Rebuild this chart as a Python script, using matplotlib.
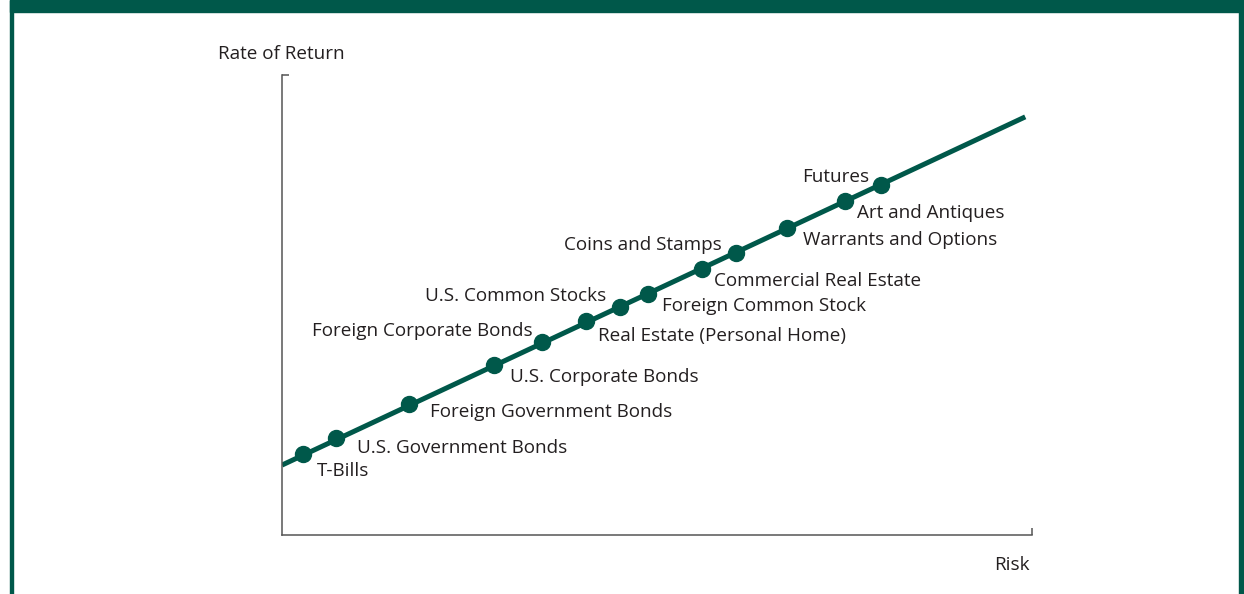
import matplotlib.pyplot as plt
from matplotlib.patches import Rectangle

# risk / return on a 0-100 scale
line_risk = [0.0, 99.1]
line_return = [15.2, 90.9]

assets = [
    "T-Bills",
    "U.S. Government Bonds",
    "Foreign Government Bonds",
    "U.S. Corporate Bonds",
    "Foreign Corporate Bonds",
    "Real Estate (Personal Home)",
    "U.S. Common Stocks",
    "Foreign Common Stock",
    "Commercial Real Estate",
    "Coins and Stamps",
    "Warrants and Options",
    "Art and Antiques",
    "Futures",
]
risk = [2.8, 7.2, 16.9, 28.3, 34.7, 40.5, 45.1, 48.8, 56.0, 60.5, 67.3, 75.0, 79.9]
ret = [17.6, 21.1, 28.5, 37.0, 42.0, 46.5, 49.6, 52.4, 57.8, 61.3, 66.7, 72.6, 76.1]

# label offsets in points and alignment
offsets = [(10, -12.5), (15, -7.5), (15, -5.5), (11, -8.5), (-7, 7.5), (9, -10.5),
           (-10, 7.5), (10, -8.5), (9, -8.5), (-10, 5.5), (12, -8.5), (9, -8.5),
           (-9, 5.5)]
aligns = ["left", "left", "left", "left", "right", "left", "right",
          "left", "left", "right", "left", "left", "right"]

GREEN = "#00584a"
TEXT = "#231f20"
AXIS = "#555555"
FS = 13.6

plt.rcParams["font.family"] = ["Open Sans", "DejaVu Sans"]

fig = plt.figure(figsize=(12.44, 5.94), dpi=100)
W, H = 1244, 594

# frame: top band and side bars
fig.patches.append(Rectangle((10 / W, 1 - 12 / H), 1 - 10 / W, 12 / H,
                             transform=fig.transFigure, color=GREEN, zorder=0))
fig.patches.append(Rectangle((10 / W, 0), 3 / W, 1, transform=fig.transFigure,
                             color=GREEN, zorder=0))
fig.patches.append(Rectangle((1239 / W, 0), 5 / W, 1, transform=fig.transFigure,
                             color=GREEN, zorder=0))

ax = fig.add_axes([282 / W, 59 / H, 750 / W, 460 / H])
ax.set_xlim(0, 100)
ax.set_ylim(0, 100)

ax.plot(line_risk, line_return, color=GREEN, lw=3.6, solid_capstyle="butt", zorder=2)
ax.plot(risk, ret, "o", color=GREEN, ms=11.5, zorder=3)

for name, x, y, off, ha in zip(assets, risk, ret, offsets, aligns):
    ax.annotate(name, (x, y), xytext=off, textcoords="offset points",
                ha=ha, va="center", fontsize=FS, color=TEXT)

for side in ["top", "right"]:
    ax.spines[side].set_visible(False)
for side in ["left", "bottom"]:
    ax.spines[side].set_color(AXIS)
    ax.spines[side].set_linewidth(1.1)

ax.set_xticks([100])
ax.set_yticks([100])
ax.set_xticklabels([])
ax.set_yticklabels([])
ax.tick_params(direction="in", length=5, width=1.1, color=AXIS)

fig.text(218 / W, 1 - 54 / H, "Rate of Return", ha="left", va="center",
         fontsize=FS, color=TEXT)
fig.text(1030 / W, 1 - 565 / H, "Risk", ha="right", va="center",
         fontsize=FS, color=TEXT)

fig.savefig("out.png", dpi=100)
